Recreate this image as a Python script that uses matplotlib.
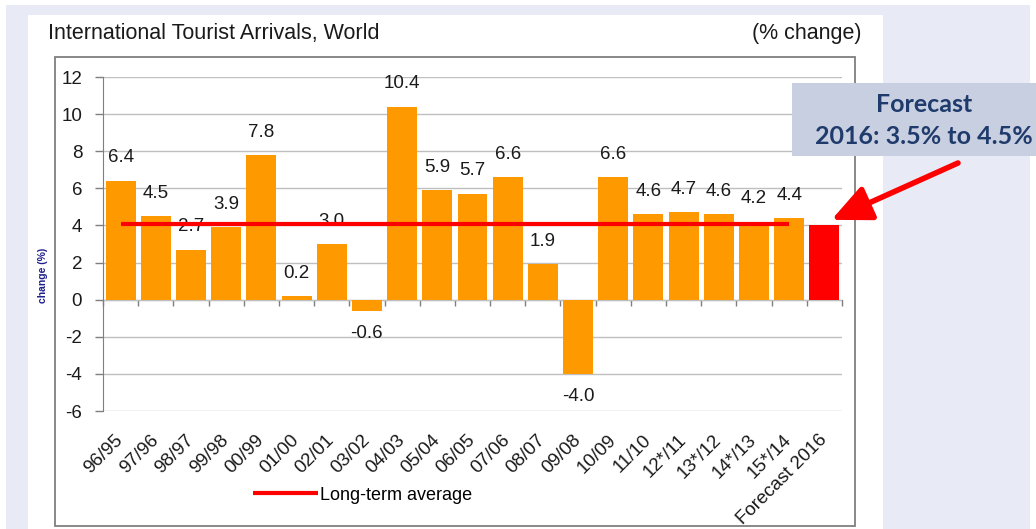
import numpy as np
import matplotlib.pyplot as plt
from matplotlib.patches import Rectangle

# International tourist arrivals, world (% change on previous year)
periods = ['96/95', '97/96', '98/97', '99/98', '00/99', '01/00', '02/01', '03/02',
           '04/03', '05/04', '06/05', '07/06', '08/07', '09/08', '10/09', '11/10',
           '12*/11', '13*/12', '14*/13', '15*/14', 'Forecast 2016']
change = [6.4, 4.5, 2.7, 3.9, 7.8, 0.2, 3.0, -0.6, 10.4, 5.9, 5.7, 6.6, 1.9,
          -4.0, 6.6, 4.6, 4.7, 4.6, 4.2, 4.4]
forecast_2016 = 4.0
long_term_avg = 4.1

W, H = 1036, 529
plt.rcParams['font.family'] = ['Liberation Sans', 'DejaVu Sans']
plt.rcParams['axes.unicode_minus'] = False

fig = plt.figure(figsize=(W / 100, H / 100), dpi=100)
fig.patch.set_facecolor('white')


def px_rect(x0, y0, x1, y1, **kw):
    # rectangle given in pixels, measured from the top-left corner
    r = Rectangle((x0 / W, 1 - y1 / H), (x1 - x0) / W, (y1 - y0) / H,
                  transform=fig.transFigure, **kw)
    fig.add_artist(r)
    return r


# page background, white panel and chart frame
px_rect(6, 5, 1030, 529, facecolor='#e8eaf5', edgecolor='none', zorder=-3)
px_rect(28, 15, 883, 529, facecolor='white', edgecolor='none', zorder=-2)
px_rect(55, 57, 855, 526, facecolor='white', edgecolor='#7f7f7f', lw=1.3, zorder=-1)

ax = fig.add_axes([103 / W, 1 - 411 / H, (842 - 103) / W, (411 - 77) / H])
ax.set_facecolor('none')

x = np.arange(len(periods))
values = change + [forecast_2016]
colors = ['#ff9900'] * len(change) + ['#ff0000']
ax.bar(x, values, width=0.85, color=colors, zorder=2)

ax.set_xlim(-0.5, len(periods) - 0.5)
ax.set_ylim(-6, 12)
ax.set_yticks(np.arange(-6, 13, 2))
ax.yaxis.grid(True, color='#bfbfbf', lw=1)
ax.set_axisbelow(True)
for s in ['top', 'right', 'bottom']:
    ax.spines[s].set_visible(False)
ax.spines['left'].set_color('#7f7f7f')
ax.tick_params(axis='y', length=6, width=1, color='#7f7f7f', pad=9,
               labelsize=13.5, labelcolor='#1a1a1a')
ax.set_xticks(x)
ax.set_xticklabels(periods, rotation=45, ha='right', va='center',
                   rotation_mode='anchor', fontsize=13.5, color='#1a1a1a')
ax.tick_params(axis='x', length=0, pad=19)

# category axis sitting on zero, ticks between the bars
ylo, yhi = ax.get_ylim()
zero_axis = ax.secondary_xaxis((0 - ylo) / (yhi - ylo))
zero_axis.set_xticks(np.arange(len(periods) + 1) - 0.5)
zero_axis.set_xticklabels([])
zero_axis.tick_params(length=4, width=1, color='#7f7f7f')
zero_axis.spines['bottom'].set_color('#7f7f7f')

# value labels
for xi, v in zip(x, change):
    ax.annotate(f'{v:.1f}', (xi, v), xytext=(0, 16.5 if v >= 0 else -16.5),
                textcoords='offset points', ha='center', va='center',
                fontsize=13.5, color='#1a1a1a', zorder=4)

avg_line, = ax.plot([x[0], x[len(change) - 1]], [long_term_avg] * 2, color='red',
                    lw=3, solid_capstyle='butt', zorder=5, label='Long-term average')

fig.legend(handles=[avg_line], loc='center left', bbox_to_anchor=(253 / W, 1 - 495 / H),
           frameon=False, fontsize=13, handlelength=3.6, handletextpad=0.1,
           borderpad=0, borderaxespad=0)

fig.text(48 / W, 1 - 33 / H, 'International Tourist Arrivals, World', fontsize=15.5,
         ha='left', va='center', color='#1a1a1a')
fig.text(862 / W, 1 - 33 / H, '(% change)', fontsize=15.5, ha='right', va='center',
         color='#1a1a1a')
fig.text(43 / W, 1 - 275 / H, 'change (%)', rotation=90, fontsize=7.5,
         fontweight='bold', color='#1f1f8c', ha='center', va='center')

# forecast call-out
px_rect(792, 83, 1040, 156, facecolor='#c8cfe1', edgecolor='none', zorder=5)
for txt, yy in [('Forecast', 104), ('2016: 3.5% to 4.5%', 137)]:
    fig.text(924 / W, 1 - yy / H, txt, family=['Lato', 'DejaVu Sans'], fontweight='bold',
             fontsize=18, color='#1f3b6b', ha='center', va='center', zorder=6)

ax.annotate('', xy=(20.2, 4.3), xycoords='data',
            xytext=(958 / W, 1 - 163 / H), textcoords='figure fraction',
            arrowprops=dict(arrowstyle='-|>,head_length=1.2,head_width=0.55',
                            color='red', lw=4, mutation_scale=20,
                            shrinkA=0, shrinkB=0),
            annotation_clip=False, zorder=6)

fig.savefig('out.png', dpi=100)
